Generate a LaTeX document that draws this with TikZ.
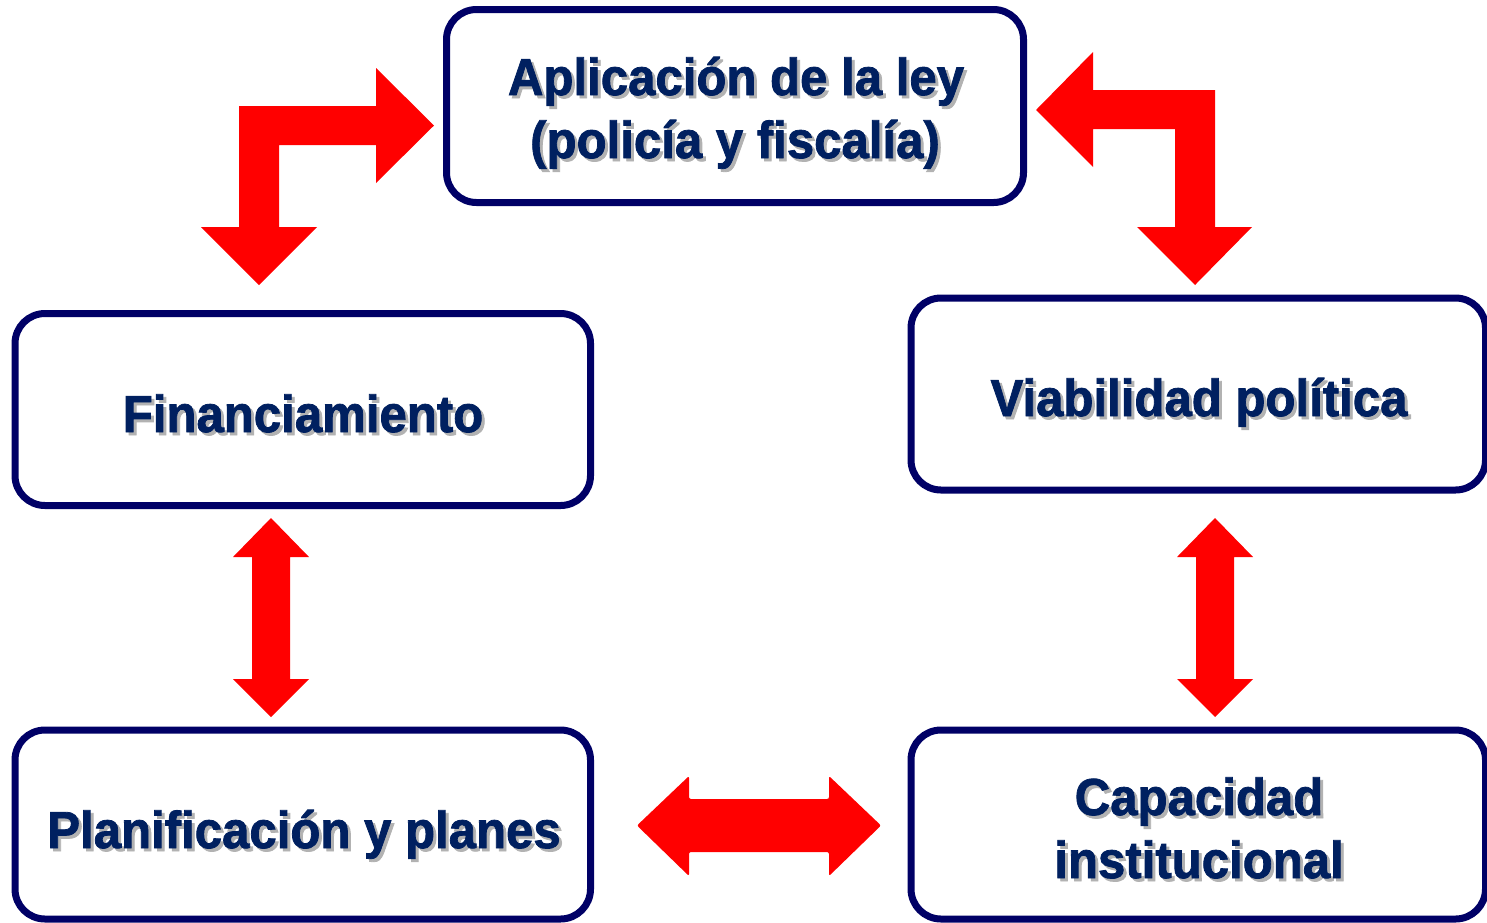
\documentclass[tikz,border=0pt]{standalone}
\usepackage{fontspec}
\setmainfont{Liberation Sans}[FakeStretch=0.945, BoldFeatures={FakeBold=1.5}]
\usetikzlibrary{positioning}
\definecolor{boxnavy}{HTML}{000066}
\definecolor{txtnavy}{HTML}{002060}
\definecolor{arrred}{HTML}{FF0000}
\newcommand\shtxt[1]{\rlap{\kern3pt\raisebox{-3pt}{\textcolor{black!30}{#1}}}#1}
\tikzset{
  boxrr/.style={draw=boxnavy, line width=7pt, rounded corners=30pt, fill=white, inner sep=0pt},
  lbl/.style={anchor=base, inner sep=0pt, text=txtnavy, font=\fontsize{52}{63}\selectfont\bfseries},
  blockarrow/.style={fill=arrred, draw=none}
}
\begin{document}
\begin{tikzpicture}[x=1pt,y=-1pt]
\useasboundingbox (0,0) rectangle (1487,922);
\fill[white] (0,0) rectangle (1487,922);
% boxes
\node[boxrr, minimum width=577pt, minimum height=193pt] (ley) at (735,106) {};
\node[boxrr, minimum width=575.5pt, minimum height=192pt] (fin) at (302.75,409.5) {};
\node[boxrr, minimum width=574.5pt, minimum height=192pt] (via) at (1198.25,394) {};
\node[boxrr, minimum width=575.5pt, minimum height=189pt] (pla) at (302.75,824.5) {};
\node[boxrr, minimum width=574.5pt, minimum height=189pt] (cap) at (1198.25,824.5) {};
% texts
\node[lbl] (ley1) at (736,95) {\shtxt{Aplicación de la ley}};
\node[lbl] (ley2) at (735,158) {\shtxt{(policía y fiscalía)}};
\node[lbl] (fint) at (303,432) {\shtxt{Financiamiento}};
\node[lbl] (viat) at (1199,416) {\shtxt{Viabilidad política}};
\node[lbl] (plat) at (304,848) {\shtxt{Planificación y planes}};
\node[lbl] (cap1) at (1199,815) {\shtxt{Capacidad}};
\node[lbl] (cap2) at (1199,878) {\shtxt{institucional}};
% bent arrow top-left
\fill[blockarrow] (259,285) -- (317,227) -- (279,227) -- (279,145) -- (376,145) -- (376,183)
  -- (434,125.5) -- (376,68) -- (376,106) -- (239,106) -- (239,227) -- (201,227) -- cycle;
% bent arrow top-right
\fill[blockarrow] (1036,110) -- (1093,52) -- (1093,90) -- (1215,90) -- (1215,227) -- (1252,227)
  -- (1195,285) -- (1137,227) -- (1175,227) -- (1175,129) -- (1093,129) -- (1093,167) -- cycle;
% vertical double arrow left
\fill[blockarrow] (271,518) -- (309,557) -- (290,557) -- (290,679) -- (309,679) -- (271,717)
  -- (233,679) -- (252,679) -- (252,557) -- (233,557) -- cycle;
% vertical double arrow right
\fill[blockarrow] (1215,518) -- (1253,557) -- (1234,557) -- (1234,679) -- (1253,679) -- (1215,717)
  -- (1177,679) -- (1196,679) -- (1196,557) -- (1177,557) -- cycle;
% horizontal double arrow
\fill[blockarrow, rounded corners=2pt] (637,825.5) -- (689,776) -- (689,799) -- (829,799) -- (829,776)
  -- (881,825.5) -- (829,876) -- (829,852) -- (689,852) -- (689,876) -- cycle;
\end{tikzpicture}
\end{document}
